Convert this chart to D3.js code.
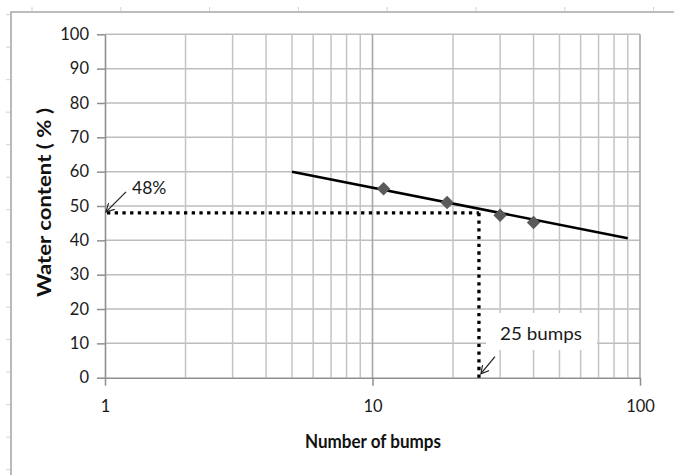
<!DOCTYPE html>
<html>
<head>
<meta charset="utf-8">
<script src="https://cdn.jsdelivr.net/npm/d3@7"></script>
<style>
  html, body { margin: 0; padding: 0; background: #fff; }
  svg { display: block; font-family: Lato, "Open Sans", sans-serif; }
</style>
</head>
<body>
<svg id="chart" width="674" height="475"></svg>
<script>
// Flow-curve test: water content against number of bumps (log scale)
const bumps = [11, 19, 30, 40];
const waterContent = [55, 51, 47.3, 45.2];

// Best-fit flow line end points
const flowBumps = [5, 90];
const flowWater = [60, 40.6];

// Reading taken at 25 bumps
const readBumps = 25;
const readWater = 48;

const yTicks = [0, 10, 20, 30, 40, 50, 60, 70, 80, 90, 100];
const xTicks = [1, 10, 100];
const xMinor = [2, 3, 4, 5, 6, 7, 8, 9, 20, 30, 40, 50, 60, 70, 80, 90];

const svg = d3.select("#chart");
const x = d3.scaleLog().domain([1, 100]).range([105, 640]);
const y = d3.scaleLinear().domain([0, 100]).range([377.7, 34.3]);

// Frame of the chart box with faint ruler marks outside it
svg.append("g").selectAll("line").data(d3.range(0, 8)).join("line")
  .attr("x1", i => 32 + i * 88.8).attr("x2", i => 32 + i * 88.8)
  .attr("y1", 7).attr("y2", 11)
  .attr("stroke", "#ccd3e0").attr("stroke-width", 1);
svg.append("g").selectAll("line").data(d3.range(0, 15)).join("line")
  .attr("y1", i => 14.7 + i * 32.5).attr("y2", i => 14.7 + i * 32.5)
  .attr("x1", 6).attr("x2", 10)
  .attr("stroke", "#ccd3e0").attr("stroke-width", 1);
svg.append("path")
  .attr("d", "M11,475 L11,12 L674,12")
  .attr("fill", "none").attr("stroke", "#a8a8a8").attr("stroke-width", 1.6);

// Gridlines
const grid = svg.append("g");
grid.selectAll("line.h").data(yTicks.filter(d => d > 0)).join("line")
  .attr("class", "h")
  .attr("x1", x(1)).attr("x2", x(100))
  .attr("y1", d => y(d)).attr("y2", d => y(d))
  .attr("stroke", "#bdbdbd").attr("stroke-width", 1.5);
grid.selectAll("line.vm").data(xMinor).join("line")
  .attr("class", "vm")
  .attr("x1", d => x(d)).attr("x2", d => x(d))
  .attr("y1", y(0)).attr("y2", y(100))
  .attr("stroke", "#c4c4c4").attr("stroke-width", 1.5);
grid.selectAll("line.vM").data([10, 100]).join("line")
  .attr("class", "vM")
  .attr("x1", d => x(d)).attr("x2", d => x(d))
  .attr("y1", y(0)).attr("y2", y(100))
  .attr("stroke", "#a6a6a6").attr("stroke-width", 1.6);

// Axes
const yAxis = svg.append("g")
  .attr("transform", `translate(${x(1)},0)`)
  .call(d3.axisLeft(y).tickValues(yTicks).tickSize(8).tickPadding(8).tickSizeOuter(0));
const xAxis = svg.append("g")
  .attr("transform", `translate(0,${y(0)})`)
  .call(d3.axisBottom(x).tickValues(xTicks).tickFormat(d3.format("d")).tickSize(8).tickPadding(15).tickSizeOuter(0));
[yAxis, xAxis].forEach(a => {
  a.select(".domain").attr("stroke", "#8f8f8f").attr("stroke-width", 1.6);
  a.selectAll(".tick line").attr("stroke", "#8f8f8f").attr("stroke-width", 1.5);
  a.selectAll(".tick text").attr("fill", "#1a1a1a")
    .style("font-family", "Lato, sans-serif").style("font-size", "16.5px");
});

// Axis titles
svg.append("text")
  .attr("x", 373).attr("y", 448)
  .attr("text-anchor", "middle")
  .attr("textLength", 136).attr("lengthAdjust", "spacingAndGlyphs")
  .style("font-size", "18.5px").style("font-weight", "bold").attr("fill", "#111")
  .text("Number of bumps");
svg.append("text")
  .attr("transform", "translate(51,202.5) rotate(-90)")
  .attr("text-anchor", "middle")
  .attr("textLength", 189).attr("lengthAdjust", "spacingAndGlyphs")
  .style("font-size", "18px").style("font-weight", "bold").attr("fill", "#111")
  .text("Water content ( % )");

// White label backing for the bump reading
svg.append("rect")
  .attr("x", 486).attr("y", 313).attr("width", 111).attr("height", 37)
  .attr("fill", "#fff");

// Flow line
const flowLine = d3.line().x(d => x(d[0])).y(d => y(d[1]));
svg.append("path")
  .datum(d3.zip(flowBumps, flowWater))
  .attr("d", flowLine)
  .attr("fill", "none").attr("stroke", "#000").attr("stroke-width", 2.6);

// Test points
svg.append("g").selectAll("path").data(d3.zip(bumps, waterContent)).join("path")
  .attr("d", d3.symbol(d3.symbolSquare, 90))
  .attr("transform", d => `translate(${x(d[0])},${y(d[1])}) rotate(45)`)
  .attr("fill", "#5a5a5a");

// Reading guides
const guide = svg.append("g")
  .attr("fill", "none").attr("stroke", "#000")
  .attr("stroke-width", 3.3).attr("stroke-dasharray", "3.3,4.4");
guide.append("line")
  .attr("x1", x(1) + 2).attr("x2", x(readBumps))
  .attr("y1", y(readWater)).attr("y2", y(readWater));
guide.append("line")
  .attr("x1", x(readBumps)).attr("x2", x(readBumps))
  .attr("y1", y(readWater)).attr("y2", y(0));

// Annotation arrows
svg.append("defs").append("marker")
  .attr("id", "head").attr("viewBox", "0 0 10 10")
  .attr("refX", 9).attr("refY", 5)
  .attr("markerWidth", 9).attr("markerHeight", 9)
  .attr("markerUnits", "userSpaceOnUse")
  .attr("orient", "auto")
  .append("path").attr("d", "M0,0 L9,5 L0,10")
  .attr("fill", "none").attr("stroke", "#222").attr("stroke-width", 1.3);

const arrows = [
  { tx: x(1) + 1, ty: y(readWater) - 1, dx: 20, dy: -20 },
  { tx: x(readBumps) + 2, ty: y(0) - 4, dx: 14, dy: -17 }
];
svg.append("g").selectAll("line").data(arrows).join("line")
  .attr("x1", d => d.tx + d.dx).attr("y1", d => d.ty + d.dy)
  .attr("x2", d => d.tx).attr("y2", d => d.ty)
  .attr("stroke", "#222").attr("stroke-width", 1.3)
  .attr("marker-end", "url(#head)");

// Reading labels
svg.append("text")
  .attr("x", 132).attr("y", 194)
  .style("font-size", "17.5px").attr("fill", "#1a1a1a")
  .text(readWater + "%");
svg.append("text")
  .attr("x", 500).attr("y", 340)
  .attr("textLength", 82).attr("lengthAdjust", "spacingAndGlyphs")
  .style("font-size", "18px").attr("fill", "#1a1a1a")
  .text(readBumps + " bumps");
</script>
</body>
</html>
